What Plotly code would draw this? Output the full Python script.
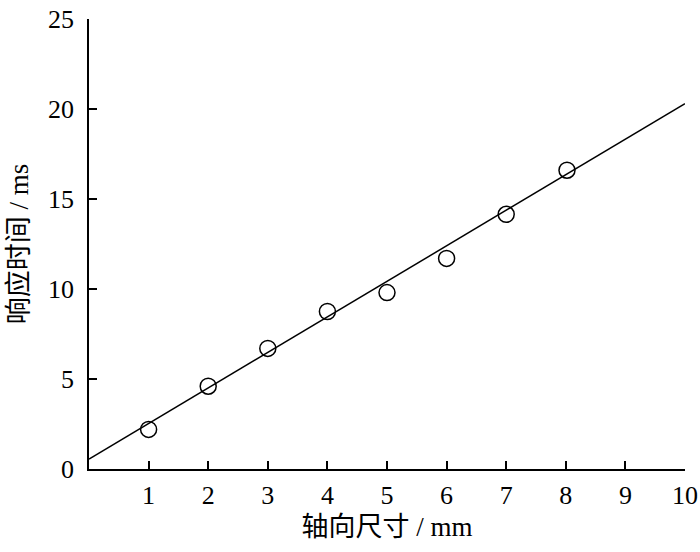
import plotly.graph_objects as go

# Datos medidos
size_mm = [1, 2, 3, 4, 5, 6, 7, 8.02]
resp_ms = [2.2, 4.6, 6.7, 8.75, 9.8, 11.7, 14.15, 16.6]

# Recta de ajuste (extremos)
fit_x = [0, 10]
fit_y = [0.55, 20.3]

x_ticks = [1, 2, 3, 4, 5, 6, 7, 8, 9, 10]
y_ticks = [0, 5, 10, 15, 20, 25]

fuente = "Liberation Serif, Times New Roman, Noto Sans CJK SC, serif"

fig = go.Figure()
fig.add_trace(go.Scatter(x=fit_x, y=fit_y, mode="lines",
                         line=dict(color="black", width=1.5),
                         showlegend=False, cliponaxis=False))
fig.add_trace(go.Scatter(x=size_mm, y=resp_ms, mode="markers",
                         marker=dict(symbol="circle-open", size=16,
                                     color="black", line=dict(width=1.5)),
                         showlegend=False, cliponaxis=False))

eje = dict(showline=True, linecolor="black", linewidth=1.5,
           ticks="inside", ticklen=8, tickwidth=1.5, tickcolor="black",
           showgrid=False, zeroline=False, automargin=False,
           ticklabeloverflow="allow",
           tickfont=dict(family=fuente, size=26, color="black"))

fig.update_xaxes(range=[0, 10], tickvals=x_ticks, ticklabelstandoff=2,
                 title=dict(text="轴向尺寸 / mm", standoff=8,
                            font=dict(family=fuente, size=27, color="black")),
                 **eje)
fig.update_yaxes(range=[0, 25], tickvals=y_ticks, ticklabelstandoff=8,
                 title=dict(text="响应时间 / ms", standoff=12,
                            font=dict(family=fuente, size=27, color="black")),
                 **eje)

fig.update_layout(width=700, height=552,
                  margin=dict(l=89, r=15, t=19, b=83),
                  plot_bgcolor="white", paper_bgcolor="white")

# quitar el margen por defecto del body de la página
fig.write_html("out.html", config={"displayModeBar": False},
               post_script="document.body.style.margin='0';")
